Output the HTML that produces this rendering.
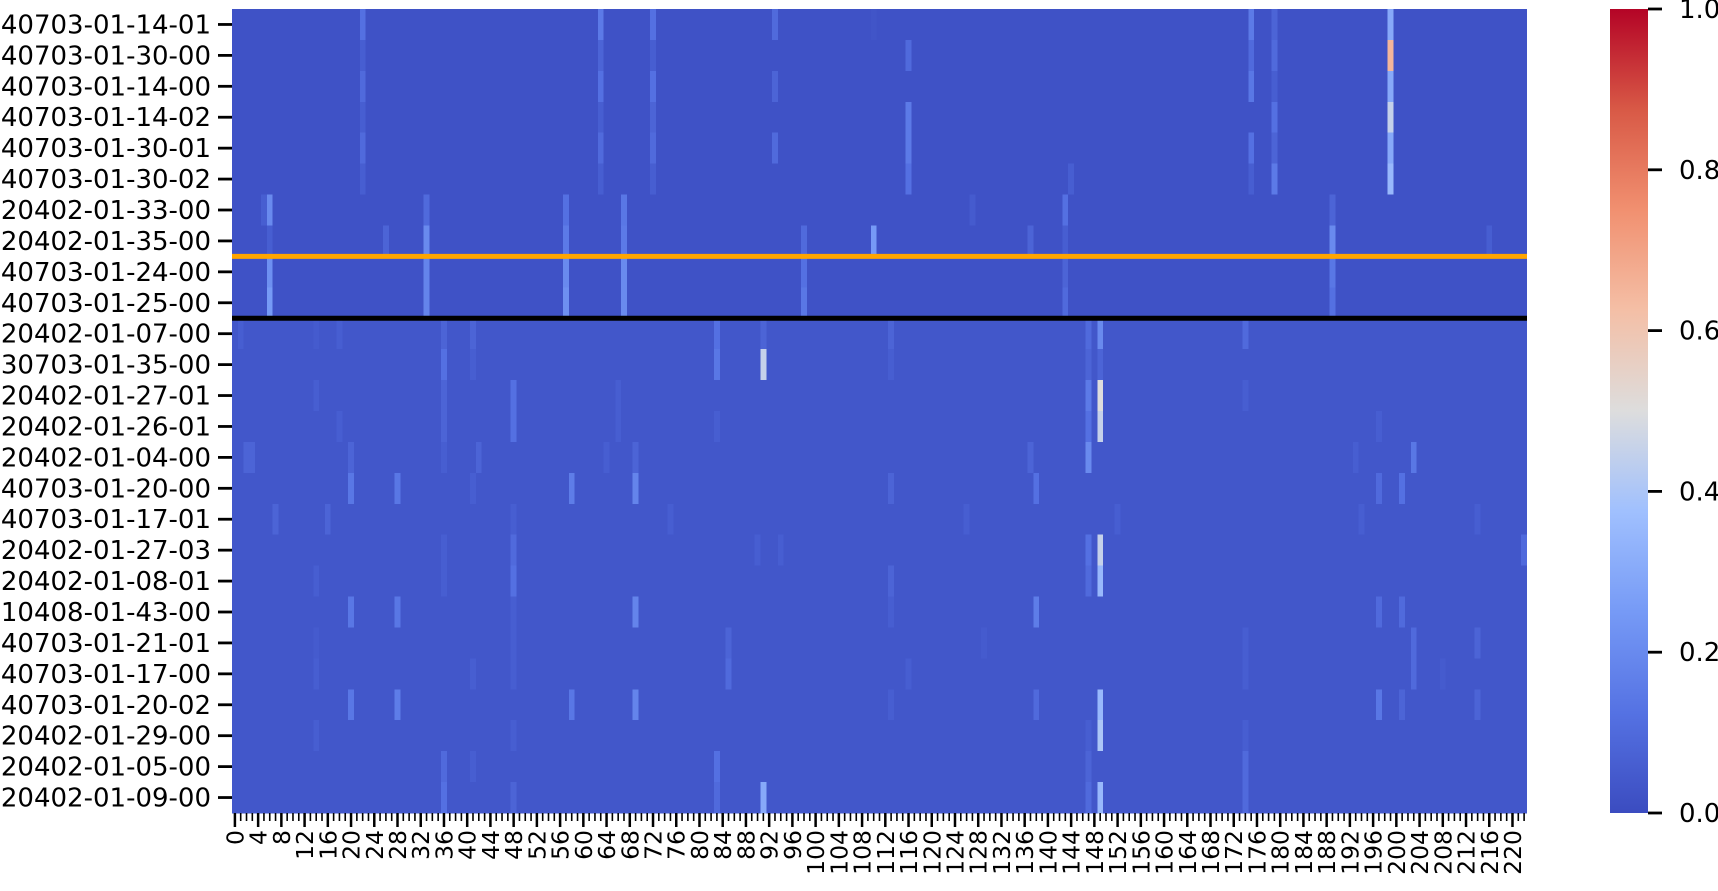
<!DOCTYPE html>
<html><head><meta charset="utf-8"><style>
html,body{margin:0;padding:0;background:#fff;}
svg{display:block;font-family:"DejaVu Sans","Liberation Sans",sans-serif;}
</style></head><body>
<svg id="chart" width="1718" height="891" viewBox="0 0 1718 891" xmlns="http://www.w3.org/2000/svg">
<g id="cells" shape-rendering="crispEdges"></g>
<g id="lines"></g>
<g id="yaxis"></g>
<g id="xaxis"></g>
<defs><linearGradient id="cw" x1="0" y1="1" x2="0" y2="0"></linearGradient></defs>
<g id="cbar"></g>
</svg>
<script>
const rowLabels = ["40703-01-14-01","40703-01-30-00","40703-01-14-00","40703-01-14-02","40703-01-30-01","40703-01-30-02","20402-01-33-00","20402-01-35-00","40703-01-24-00","40703-01-25-00","20402-01-07-00","30703-01-35-00","20402-01-27-01","20402-01-26-01","20402-01-04-00","40703-01-20-00","40703-01-17-01","20402-01-27-03","20402-01-08-01","10408-01-43-00","40703-01-21-01","40703-01-17-00","40703-01-20-02","20402-01-29-00","20402-01-05-00","20402-01-09-00"];
const nCols = 223;
const baseValues = [0.02,0.02,0.02,0.02,0.02,0.02,0.02,0.02,0.02,0.02,0.035,0.035,0.035,0.035,0.035,0.035,0.035,0.035,0.035,0.035,0.035,0.035,0.035,0.035,0.035,0.035];
const spikes = [
[[22,.12],[63,.15],[72,.12],[93,.1],[175,.15],[179,.08],[199,.3],[110,.03]],
[[22,.06],[63,.08],[72,.06],[116,.1],[175,.1],[179,.1],[199,.65]],
[[22,.1],[63,.12],[72,.12],[93,.08],[175,.14],[179,.06],[199,.3]],
[[22,.06],[63,.06],[72,.08],[116,.15],[179,.12],[199,.45]],
[[22,.1],[63,.1],[72,.1],[93,.1],[116,.15],[175,.12],[179,.08],[199,.3]],
[[22,.06],[63,.06],[72,.06],[116,.12],[144,.06],[175,.06],[179,.15],[199,.35]],
[[5,.06],[6,.2],[33,.1],[57,.12],[67,.14],[143,.12],[189,.08],[127,.05]],
[[6,.06],[26,.08],[33,.2],[57,.15],[67,.15],[98,.1],[110,.25],[137,.08],[143,.06],[189,.2],[216,.06]],
[[6,.22],[33,.18],[57,.2],[67,.2],[98,.12],[143,.08],[189,.14]],
[[6,.25],[33,.18],[57,.22],[67,.2],[98,.14],[143,.1],[189,.12]],
[[1,.06],[14,.05],[18,.06],[36,.08],[41,.08],[83,.12],[91,.08],[113,.08],[149,.2],[147,.1],[174,.1]],
[[36,.12],[41,.06],[83,.14],[91,.45],[113,.06],[147,.08],[149,.08]],
[[14,.06],[36,.08],[48,.12],[66,.06],[147,.15],[149,.5],[174,.06]],
[[18,.06],[36,.08],[48,.12],[66,.06],[83,.06],[147,.12],[149,.45],[197,.06]],
[[2,.08],[3,.08],[20,.08],[36,.06],[42,.08],[64,.06],[69,.08],[137,.08],[147,.2],[203,.14],[193,.06]],
[[20,.14],[28,.14],[41,.06],[58,.16],[69,.18],[113,.08],[138,.12],[197,.1],[201,.12]],
[[7,.08],[16,.08],[48,.06],[75,.06],[126,.06],[152,.06],[194,.06],[214,.06]],
[[36,.06],[48,.1],[90,.06],[94,.06],[147,.12],[149,.45],[222,.1]],
[[14,.06],[36,.06],[48,.12],[113,.08],[147,.1],[149,.35]],
[[20,.14],[28,.14],[48,.06],[69,.18],[113,.06],[138,.16],[197,.1],[201,.1]],
[[14,.05],[48,.06],[85,.08],[129,.05],[174,.06],[203,.1],[214,.08]],
[[14,.06],[41,.06],[48,.06],[85,.1],[116,.06],[174,.06],[203,.1],[208,.05]],
[[20,.14],[28,.16],[58,.14],[69,.18],[113,.06],[138,.1],[149,.35],[197,.14],[201,.08],[214,.08]],
[[14,.06],[48,.06],[147,.06],[149,.4],[174,.06]],
[[36,.1],[41,.06],[83,.12],[174,.1],[147,.08]],
[[36,.12],[48,.08],[83,.1],[91,.3],[147,.1],[149,.35],[174,.1]]
];
const separatorRows = [8,10];
const separatorColors = ["#ffa500","#000000"];
const cbarTicks = [0,0.2,0.4,0.6,0.8,1.0];

const L=232,R=1527,T=9,B=813;
const cw=(R-L)/nCols, rh=(B-T)/rowLabels.length;
const xPos=c=>L+c*cw, yPos=r=>T+r*rh;
const stops=[[0,[59,76,192]],[0.125,[85,114,227]],[0.25,[118,154,246]],[0.375,[160,192,254]],[0.5,[221,221,221]],[0.625,[244,191,166]],[0.75,[241,144,112]],[0.875,[216,89,70]],[1,[180,4,38]]];
function color(v){v=Math.max(0,Math.min(1,v));for(let i=1;i<stops.length;i++){if(v<=stops[i][0]){const a=stops[i-1],b=stops[i],t=(v-a[0])/(b[0]-a[0]);return 'rgb('+a[1].map((x,k)=>Math.round(x+(b[1][k]-x)*t)).join(',')+')';}}return 'rgb(180,4,38)';}
const NS="http://www.w3.org/2000/svg";
function mk(tag,attrs,parent){const e=document.createElementNS(NS,tag);for(const k in attrs)e.setAttribute(k,attrs[k]);parent.appendChild(e);return e;}
const cells=document.getElementById('cells');
rowLabels.forEach((lab,r)=>{
  const bg=mk('rect',{x:L,y:yPos(r),width:R-L,height:rh+0.5,fill:color(baseValues[r])},cells);
  
  
  spikes[r].forEach(([c,v])=>{
    const e=mk('rect',{x:xPos(c),y:yPos(r),width:cw,height:rh+0.5,fill:color(v)},cells);
    
    
  });
});
const lines=document.getElementById('lines');
separatorRows.forEach((r,i)=>{
  const e=mk('line',{x1:L,x2:R,y1:yPos(r),y2:yPos(r),stroke:separatorColors[i],'stroke-width':5},lines);
  
  
});
const ya=document.getElementById('yaxis');
rowLabels.forEach((lab,r)=>{
  const y=yPos(r)+rh/2;
  mk('line',{x1:L-14,x2:L,y1:y,y2:y,stroke:'#000','stroke-width':2.8},ya);
  const t=mk('text',{x:L-21,y:y+9,'text-anchor':'end','font-size':26,fill:'#000'},ya);
  t.textContent=lab;
  
  
});
const xa=document.getElementById('xaxis');
for(let c=0;c<nCols;c++){
  const x=xPos(c)+cw/2, major=c%4===0;
  mk('line',{x1:x,x2:x,y1:B,y2:B+(major?14:8),stroke:'#000','stroke-width':major?2.5:1.6},xa);
  if(major){
    const t=mk('text',{x:0,y:0,'text-anchor':'end','font-size':23.5,fill:'#000',transform:'translate('+(x+8.5)+','+(B+17)+') rotate(-90)'},xa);
    t.textContent=String(c);
    
    
  }
}
const g=document.getElementById('cw');
stops.forEach(([o,c])=>mk('stop',{offset:o,'stop-color':'rgb('+c.join(',')+')'},g));
const cb=document.getElementById('cbar');
const cbL=1610,cbR=1648;
const cr=mk('rect',{x:cbL,y:T,width:cbR-cbL,height:B-T,fill:'url(#cw)'},cb);


cbarTicks.forEach(v=>{
  const y=B-(B-T)*v;
  mk('line',{x1:cbR,x2:cbR+14,y1:y,y2:y,stroke:'#000','stroke-width':2.8},cb);
  const t=mk('text',{x:cbR+31,y:y+9,'font-size':26,fill:'#000'},cb);
  t.textContent=v.toFixed(1);
  
  
});
</script>
</body></html>
